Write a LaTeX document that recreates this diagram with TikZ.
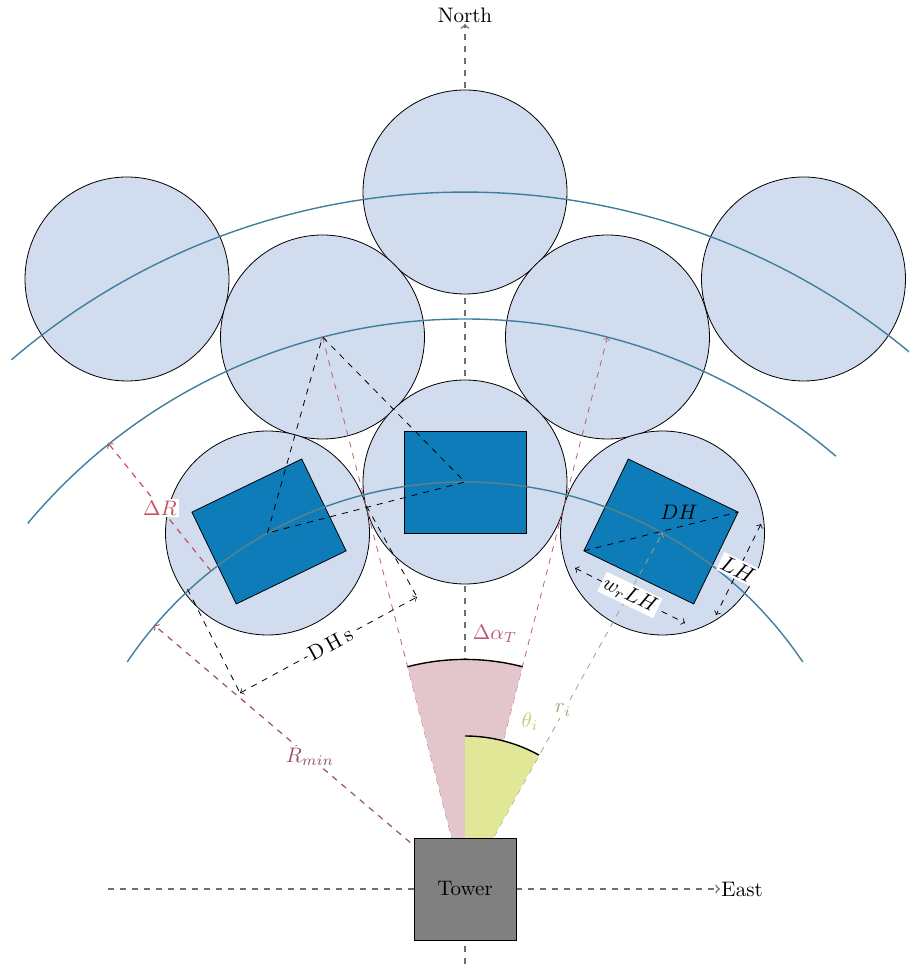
\documentclass[tikz,border=0pt]{standalone}
\usetikzlibrary{calc}
\definecolor{helio}{HTML}{D1DCEF}
\definecolor{mirror}{HTML}{0E7CB8}
\definecolor{arccol}{HTML}{3F7F9C}
\definecolor{arcover}{HTML}{56828F}
\definecolor{axiscol}{HTML}{6E6E6E}
\definecolor{towercol}{HTML}{808080}
\definecolor{pinkfill}{HTML}{E3C6CC}
\definecolor{yellowfill}{HTML}{E0E898}
\definecolor{alphacol}{HTML}{BC5C80}
\definecolor{alphatxt}{HTML}{B85A72}
\definecolor{drcol}{HTML}{C8505C}
\definecolor{rmincol}{HTML}{985070}
\definecolor{ricol}{HTML}{A5A37A}
\definecolor{thetacol}{HTML}{C8D060}
\tikzset{
  helionode/.style={circle,draw=black,fill=helio,minimum size=102pt,inner sep=0pt,outer sep=0pt},
  mirrornode/.style={rectangle,draw=black,fill=mirror,minimum width=61pt,minimum height=51pt,inner sep=0pt,outer sep=0pt},
  arcline/.style={line width=0.7pt,draw=arccol},
  axisline/.style={->,dashed,line width=0.7pt,draw=axiscol},
  thinarrow/.style={->,dashed,line width=0.4pt},
  dimline/.style={<->,dashed,line width=0.4pt,draw=black},
  extline/.style={dashed,line width=0.4pt,draw=black},
  rimline/.style={line width=0.7pt,draw=black},
  lab/.style={scale=1.05},
  whitelabel/.style={lab,fill=white,inner sep=1pt}
}
\begin{document}
\begin{tikzpicture}[x=0.5pt,y=0.5pt]
\useasboundingbox (0,0) rectangle (909,964);
\coordinate (c) at (465,75);
\coordinate (ne) at (465,940);
\coordinate (ns) at (465,0);
\coordinate (ew) at (108,75);
\coordinate (ee) at (720,75);
% axes
\draw[axisline] (ns) -- (ne);
\draw[axisline] (ew) -- (ee);
\node[lab,anchor=base,inner sep=0pt] (north) at (465,941) {North};
\node[lab,anchor=west,inner sep=0.5pt] (east) at (ee) {East};
% heliostats
\node[helionode] (C0) at (465,772) {};
\node[helionode] (CL) at (127,685) {};
\node[helionode] (CR) at (803.5,685) {};
\node[helionode] (BL) at (322.5,627) {};
\node[helionode] (BR) at (607.5,627) {};
\node[helionode] (A0) at (465,482) {};
\node[helionode] (AL) at (267.5,431) {};
\node[helionode] (AR) at (662.5,431) {};
% ΔR under the mirror
\coordinate (drb) at (108,521);
\coordinate (dra) at (211,393);
\draw[thinarrow,draw=drcol,line width=0.6pt] (dra) -- (drb);
% mirrors
\node[mirrornode] (r0) at (465,482) {};
\node[mirrornode,rotate=25.8] (rL) at (269,432.5) {};
\node[mirrornode,rotate=-25.8] (rR) at (661,432.5) {};
% arcs
\draw[arcline] ($(c)+(130.6:697)$) arc[start angle=130.6,end angle=49.4,radius=697];
\draw[arcline] ($(c)+(140.1:570)$) arc[start angle=140.1,end angle=49.4,radius=570];
\draw[arcline] ($(c)+(146.1:407)$) arc[start angle=146.1,end angle=33.9,radius=407];
\begin{scope}
\clip (rL.north west) -- (rL.north east) -- (rL.south east) -- (rL.south west) -- cycle;
\draw[arcline,draw=arcover] ($(c)+(146.1:407)$) arc[start angle=146.1,end angle=33.9,radius=407];
\end{scope}
\begin{scope}
\clip (r0.north west) -- (r0.north east) -- (r0.south east) -- (r0.south west) -- cycle;
\draw[arcline,draw=arcover] ($(c)+(146.1:407)$) arc[start angle=146.1,end angle=33.9,radius=407];
\end{scope}
\begin{scope}
\clip (rR.north west) -- (rR.north east) -- (rR.south east) -- (rR.south west) -- cycle;
\draw[arcline,draw=arcover] ($(c)+(146.1:407)$) arc[start angle=146.1,end angle=33.9,radius=407];
\end{scope}
% alpha rays
\draw[thinarrow,draw=alphacol] (c) -- (BL.center);
\draw[thinarrow,draw=alphacol] (c) -- (BR.center);
% r_i
\draw[thinarrow,draw=ricol] (c) -- (AR.center);
% R_min
\coordinate (rm) at (154,339);
\draw[thinarrow,draw=rmincol,line width=0.6pt] (c) -- (rm);
% wedges
\fill[pinkfill] ($(c)+(104.5:229.6)$) arc[start angle=104.5,end angle=75.5,radius=229.6] -- (c) -- cycle;
\fill[yellowfill] ($(c)+(90:153)$) arc[start angle=90,end angle=61.1,radius=153] -- (c) -- cycle;
\draw[rimline] ($(c)+(104.5:229.6)$) arc[start angle=104.5,end angle=75.5,radius=229.6];
\draw[rimline] ($(c)+(90:153)$) arc[start angle=90,end angle=61.1,radius=153];
% triangle
\draw[extline] (AL.center) -- (BL.center) -- (A0.center) -- cycle;
% diagonal
\draw[extline] (rR.south west) -- (rR.north east);
% DHs
\coordinate (e1a) at (187.5,375);
\coordinate (e1b) at (240,271);
\coordinate (e2a) at (366.5,458);
\coordinate (e2b) at (417,367);
\draw[extline] (e1a) -- (e1b);
\draw[extline] (e2a) -- (e2b);
\draw[dimline] (e1b) -- node[pos=0.51,sloped,whitelabel] (dhs) {D\kern1.8pt H\kern1.8pt s} (e2b);
% w_r LH and LH
\coordinate (wa) at (575,396);
\coordinate (wb) at (685,341);
\coordinate (la) at (761,440);
\coordinate (lb) at (716,349);
\draw[dimline] (wa) -- (wb);
\draw[dimline] (la) -- (lb);
\node[whitelabel,rotate=-25.8] (wlh) at (630,369) {$w_r LH$};
\node[whitelabel,rotate=-25.8,scale=1.05] (lh) at (738,394.5) {$LH$};
\node[lab,inner sep=0pt] (dh) at (679,452) {$DH$};
% tower
\node[lab,rectangle,draw=black,fill=towercol,minimum size=48.57pt,inner sep=0pt,outer sep=0pt] (tower) at (c) {Tower};
% coloured labels
\node[lab,text=alphatxt,inner sep=0pt] (dalpha) at (495,330) {$\Delta\alpha_T$};
\node[lab,text=drcol,fill=white,inner sep=1pt] (dr) at (160,456) {$\Delta R$};
\node[lab,text=rmincol,fill=white,inner sep=1pt] (rmin) at (310,207) {$R_{min}$};
\node[lab,text=ricol,fill=white,inner sep=1pt] (ri) at (563,254) {$r_i$};
\node[lab,text=thetacol,inner sep=0pt] (theta) at (530,242) {$\theta_i$};
\end{tikzpicture}
\end{document}
